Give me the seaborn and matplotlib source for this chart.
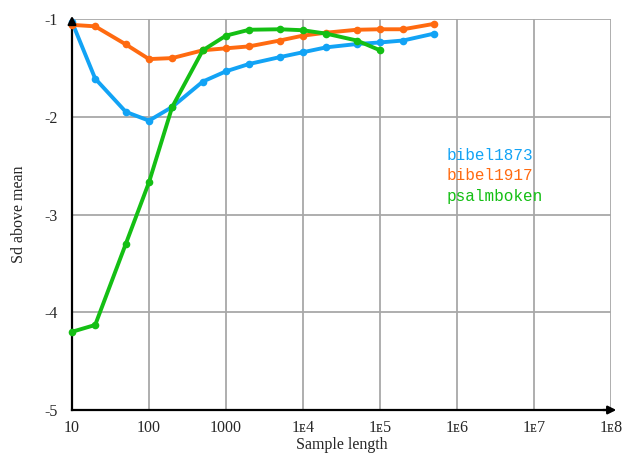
import numpy as np
import pandas as pd
import matplotlib
matplotlib.use("Agg")
import matplotlib.pyplot as plt
import seaborn as sns

x_b1873 = [10, 20, 50, 100, 200, 500, 1000, 2000, 5000, 1e4, 2e4, 5e4, 1e5, 2e5, 5e5]
y_b1873 = [-1.03, -1.61, -1.95, -2.04, -1.90, -1.64, -1.535, -1.46, -1.39, -1.34, -1.29, -1.256, -1.24, -1.22, -1.15]
x_b1917 = [10, 20, 50, 100, 200, 500, 1000, 2000, 5000, 1e4, 2e4, 5e4, 1e5, 2e5, 5e5]
y_b1917 = [-1.06, -1.075, -1.26, -1.41, -1.40, -1.32, -1.30, -1.28, -1.22, -1.17, -1.14, -1.11, -1.105, -1.105, -1.05]
x_psalm = [10, 20, 50, 100, 200, 500, 1000, 2000, 5000, 1e4, 2e4, 5e4, 1e5]
y_psalm = [-4.20, -4.13, -3.30, -2.67, -1.90, -1.32, -1.17, -1.11, -1.105, -1.115, -1.15, -1.22, -1.32]

series_names = ["bibel1873", "bibel1917", "psalmboken"]
colors = ["#12a3f5", "#ff6a10", "#14bf14"]
xticks = [10, 100, 1000, 1e4, 1e5, 1e6, 1e7, 1e8]
xtick_labels = ["10", "100", "1000", "1\u1d074", "1\u1d075", "1\u1d076", "1\u1d077", "1\u1d078"]
yticks = [-5, -4, -3, -2, -1]
ytick_labels = ["-5", "-4", "-3", "-2", "-1"]

df = pd.concat([
    pd.DataFrame({"x": x_b1873, "y": y_b1873, "series": series_names[0]}),
    pd.DataFrame({"x": x_b1917, "y": y_b1917, "series": series_names[1]}),
    pd.DataFrame({"x": x_psalm, "y": y_psalm, "series": series_names[2]}),
])

sns.set_style("white")
plt.rcParams['font.family'] = ['Liberation Serif', 'DejaVu Serif']

fig = plt.figure(figsize=(6.25, 4.55), dpi=100)
ax = fig.add_axes([72/625, 1-410/455, (611-72)/625, (410-19)/455])

ax.set_xscale("log")
ax.set_xlim(10, 1e8)
ax.set_ylim(-5, -1)

ax.set_xticks(xticks)
ax.set_xticklabels(xtick_labels, fontsize=11.5)
ax.set_yticks(yticks)
ax.set_yticklabels(ytick_labels, fontsize=11.5)
ax.minorticks_off()
ax.grid(True, color="#a8a8a8", linewidth=1.3, zorder=0)
ax.set_axisbelow(True)
ax.tick_params(axis="x", length=0, pad=7)
ax.tick_params(axis="y", length=0, pad=10)

for s in ["top", "right"]:
    ax.spines[s].set_visible(False)
for s in ["left", "bottom"]:
    ax.spines[s].set_color("black")
    ax.spines[s].set_linewidth(1.6)

sns.lineplot(data=df, x="x", y="y", hue="series", palette=colors,
             marker="o", markersize=5.5, markeredgewidth=0, linewidth=2.8,
             legend=False, ax=ax, clip_on=False, zorder=3)

# arrows on axes
ax.annotate("", xy=(0, 1.015), xycoords="axes fraction", xytext=(0, 0.98),
            arrowprops=dict(arrowstyle="-|>", color="black", lw=1.6, mutation_scale=12))
ax.annotate("", xy=(1.015, 0), xycoords="axes fraction", xytext=(0.98, 0),
            arrowprops=dict(arrowstyle="-|>", color="black", lw=1.6, mutation_scale=12))

ax.set_xlabel("Sample length", fontsize=11.5, labelpad=1)
ax.set_ylabel("Sd above mean", fontsize=11.5, labelpad=13)

for i, (name, c) in enumerate(zip(series_names, colors)):
    fig.text(447/625, 1-(156+20*i)/455, name, color=c, fontsize=11.5,
             family=["Liberation Mono", "DejaVu Sans Mono"], va="center", ha="left")

fig.savefig("out.png", dpi=100)
